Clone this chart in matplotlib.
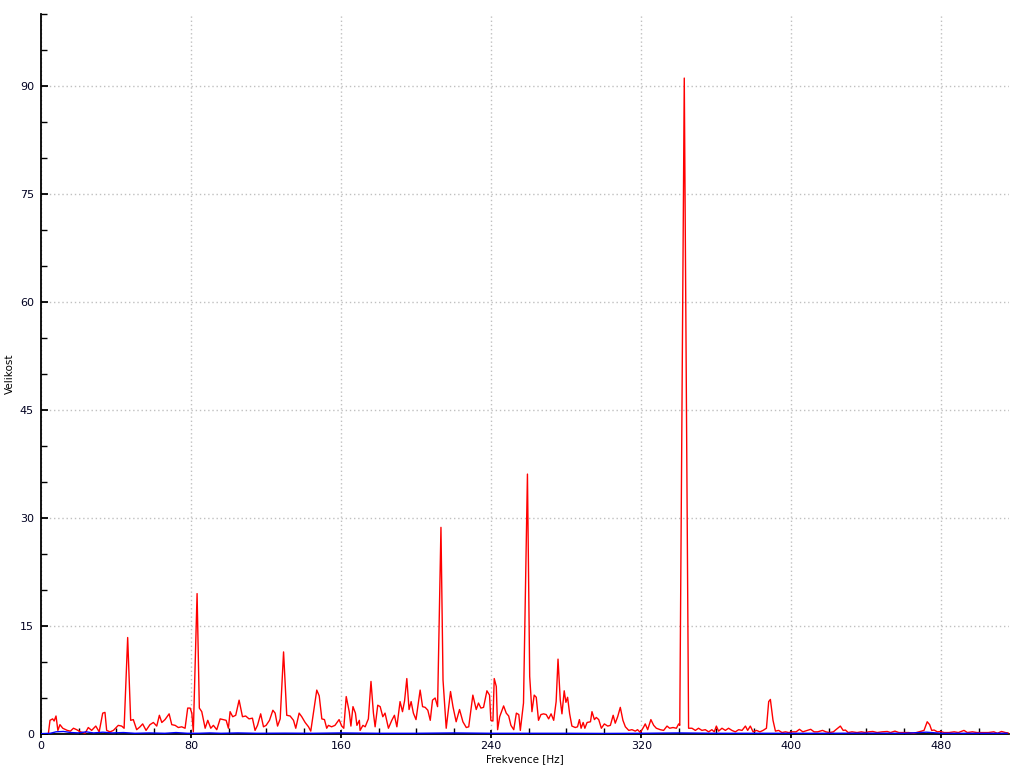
import matplotlib
matplotlib.use("Agg")
import matplotlib.pyplot as plt
from matplotlib.ticker import MultipleLocator

# Red spectrum (frequency [Hz], magnitude)
red_freq = [0.0, 3.9, 4.8, 6.2, 7.0, 8.0, 9.0, 10.1, 11.6, 14.0, 15.7, 17.3, 19.0, 21.0, 23.5, 25.2, 27.0, 29.2,
            31.0, 32.9, 34.1, 35.0, 36.8, 38.6, 41.2, 43.0, 44.3, 46.2, 47.8, 49.2, 51.0, 52.8, 54.2, 56.0,
            58.1, 59.9, 61.7, 63.1, 64.4, 66.1, 68.3, 69.7, 71.5, 73.2, 75.0, 76.8, 78.2, 79.5, 80.4, 81.2,
            83.2, 84.4, 85.7, 87.5, 88.9, 90.5, 91.9, 93.7, 95.5, 97.2, 98.7, 99.9, 100.8, 102.2, 103.8,
            105.6, 107.4, 109.1, 110.9, 112.7, 114.1, 115.4, 117.1, 118.6, 120.0, 121.8, 123.6, 124.8,
            126.1, 127.5, 129.3, 131.0, 132.8, 134.6, 135.8, 137.6, 139.0, 140.8, 142.6, 143.8, 145.2,
            147.0, 148.3, 149.7, 151.1, 152.3, 153.2, 154.9, 156.7, 158.9, 160.3, 161.4, 162.7, 164.3,
            165.2, 166.3, 167.6, 168.4, 169.7, 170.1, 171.6, 172.8, 174.5, 175.9, 177.2, 178.1, 179.5,
            180.8, 182.2, 183.4, 185.2, 187.0, 188.4, 189.7, 191.4, 192.7, 193.8, 195.0, 196.2, 197.3,
            198.5, 199.9, 202.1, 203.4, 204.8, 206.2, 207.5, 208.7, 210.1, 211.4, 213.2, 214.3, 216.0,
            218.3, 219.6, 221.3, 223.1, 224.9, 226.7, 228.0, 230.2, 232.0, 233.2, 234.5, 235.9, 237.7,
            239.1, 239.8, 240.9, 241.6, 242.7, 243.4, 244.5, 246.6, 248.0, 249.3, 250.5, 252.0, 253.4,
            254.7, 255.5, 257.2, 259.3, 260.5, 261.7, 262.9, 264.0, 265.2, 266.5, 267.9, 269.3, 270.6,
            271.9, 273.3, 274.6, 275.6, 276.8, 277.7, 278.9, 279.8, 280.7, 281.8, 283.0, 284.8, 286.0,
            287.0, 287.9, 289.0, 289.9, 291.1, 292.9, 293.7, 295.0, 296.0, 297.3, 298.7, 300.3, 302.1,
            303.5, 305.0, 306.1, 307.4, 308.8, 310.2, 311.5, 313.3, 315.0, 316.8, 318.0, 319.5, 321.3,
            322.1, 323.4, 325.1, 326.6, 328.0, 330.1, 331.9, 333.7, 335.1, 336.9, 338.7, 339.9, 340.5,
            342.9, 345.2, 347.0, 348.8, 350.5, 352.3, 354.1, 355.9, 357.6, 358.9, 360.0, 361.2, 363.0,
            364.8, 366.5, 368.3, 370.1, 371.9, 373.7, 375.5, 376.7, 378.1, 379.6, 381.4, 383.2, 384.9,
            386.7, 387.9, 388.8, 390.2, 391.5, 393.2, 395.0, 396.8, 398.6, 400.4, 402.5, 404.3, 406.1,
            408.5, 410.3, 412.1, 414.0, 416.6, 418.4, 420.2, 422.4, 423.5, 426.1, 427.6, 428.8, 430.3,
            432.3, 435.0, 437.3, 439.5, 441.2, 443.4, 445.7, 448.4, 451.1, 452.8, 455.2, 457.3, 460.0,
            462.6, 465.3, 468.0, 470.7, 472.4, 473.7, 474.8, 476.1, 477.8, 479.6, 481.4, 484.0, 486.8,
            489.0, 492.0, 493.8, 496.5, 499.0, 501.6, 505.0, 507.9, 509.8, 512.0, 514.1, 515.5]
red_mag = [0.0, 0.0, 1.9, 2.1, 1.8, 2.5, 0.5, 1.3, 0.8, 0.5, 0.4, 0.8, 0.6, 0.3, 0.1, 0.9, 0.5, 1.1,
           0.3, 2.9, 3.0, 0.5, 0.3, 0.5, 1.2, 1.1, 0.8, 13.4, 1.9, 2.0, 0.6, 1.0, 1.4, 0.5,
           1.3, 1.6, 1.1, 2.6, 1.6, 2.0, 2.8, 1.3, 1.2, 0.9, 1.0, 0.8, 3.6, 3.6, 2.9, 0.3,
           19.5, 3.6, 3.1, 0.8, 1.9, 0.8, 1.2, 0.6, 2.1, 2.0, 1.9, 0.8, 3.1, 2.4, 2.6,
           4.7, 2.4, 2.5, 2.1, 2.2, 0.5, 1.2, 2.8, 1.0, 1.2, 1.9, 3.3, 2.9,
           1.1, 2.1, 11.4, 2.6, 2.5, 1.9, 0.8, 2.9, 2.4, 1.6, 1.0, 0.4, 2.9,
           6.1, 5.3, 2.1, 2.0, 0.8, 1.2, 1.0, 1.2, 2.0, 1.1, 0.8, 5.2, 3.1,
           1.1, 3.8, 2.9, 1.2, 1.9, 0.5, 1.2, 1.0, 2.1, 7.3, 2.9, 1.0, 4.0,
           3.8, 2.4, 2.9, 0.8, 1.9, 2.6, 1.0, 4.5, 3.1, 4.6, 7.7, 3.4, 4.5,
           2.9, 2.0, 6.1, 3.8, 3.7, 3.3, 1.9, 4.7, 5.0, 3.8, 28.7, 7.5, 0.8,
           5.9, 3.8, 1.7, 3.4, 1.7, 0.9, 1.0, 5.4, 3.4, 4.3, 3.6, 3.7, 6.0,
           5.4, 1.9, 1.8, 7.7, 6.6, 0.6, 2.4, 3.9, 2.9, 2.5, 1.2, 0.6, 2.9,
           2.7, 0.5, 4.3, 36.1, 8.0, 3.1, 5.4, 5.1, 1.9, 2.7, 2.8, 2.7, 2.1,
           2.8, 1.9, 4.5, 10.4, 4.7, 2.8, 6.0, 4.4, 5.1, 2.8, 1.1, 0.9, 1.0,
           2.0, 0.8, 1.6, 0.8, 1.6, 1.7, 3.1, 2.0, 2.3, 2.0, 0.8, 1.4, 1.1,
           1.2, 2.6, 1.5, 2.4, 3.7, 1.9, 1.0, 0.5, 0.6, 0.4, 0.6, 0.2, 1.0,
           1.4, 0.6, 2.0, 1.2, 0.8, 0.6, 0.5, 1.1, 0.8, 0.9, 0.8, 1.4, 1.2,
           91.1, 0.8, 0.8, 0.5, 0.8, 0.5, 0.6, 0.3, 0.6, 0.3, 1.1, 0.4, 0.8,
           0.5, 0.8, 0.5, 0.3, 0.6, 0.5, 1.1, 0.5, 1.1, 0.3, 0.5, 0.3, 0.5,
           0.8, 4.5, 4.8, 1.9, 0.4, 0.5, 0.2, 0.3, 0.2, 0.3, 0.3, 0.65, 0.3,
           0.5, 0.65, 0.3, 0.3, 0.5, 0.3, 0.2, 0.3, 0.55, 1.1, 0.5, 0.55, 0.2,
           0.3, 0.2, 0.3, 0.2, 0.3, 0.35, 0.2, 0.3, 0.35, 0.2, 0.4, 0.2, 0.2,
           0.2, 0.1, 0.3, 0.5, 1.7, 1.3, 0.5, 0.55, 0.3, 0.35, 0.2, 0.2, 0.3,
           0.2, 0.5, 0.2, 0.3, 0.2, 0.2, 0.2, 0.3, 0.1, 0.35, 0.2, 0.15]

# Blue series (near zero)
blue_freq = [0, 5, 8, 12, 16, 20, 24, 28, 33, 38, 44, 50, 58, 66, 72, 78, 84, 90, 96, 105, 115, 130,
             145, 160, 180, 200, 220, 240, 260, 280, 300, 320, 340, 360, 380, 400, 420, 440, 460, 472,
             480, 500, 515]
blue_mag = [0.05, 0.1, 0.3, 0.35, 0.2, 0.15, 0.3, 0.15, 0.25, 0.15, 0.2, 0.1, 0.15, 0.1, 0.2, 0.1, 0.1,
            0.15, 0.1, 0.15, 0.1, 0.12, 0.1, 0.15, 0.1, 0.1, 0.15, 0.1, 0.1, 0.1, 0.08, 0.1, 0.15, 0.1,
            0.1, 0.1, 0.1, 0.12, 0.1, 0.25, 0.1, 0.1, 0.1]

fig = plt.figure(figsize=(10.24, 7.68), dpi=100)
ax = fig.add_axes([41 / 1024, 34 / 768, (1009 - 41) / 1024, (734 - 14) / 768])

ax.plot(red_freq, red_mag, color="#ff0000", lw=1.0, zorder=3)
ax.plot(blue_freq, blue_mag, color="#0000ff", lw=1.0, zorder=4)

ax.set_xlim(0, 516)
ax.set_ylim(0, 100)
ax.xaxis.set_major_locator(MultipleLocator(80))
ax.xaxis.set_minor_locator(MultipleLocator(20))
ax.yaxis.set_major_locator(MultipleLocator(15))
ax.yaxis.set_minor_locator(MultipleLocator(5))

for s in ["top", "right"]:
    ax.spines[s].set_visible(False)
for s in ["left", "bottom"]:
    ax.spines[s].set_linewidth(1.3)
    ax.spines[s].set_color("black")

ax.tick_params(axis="x", which="major", direction="inout", length=6, width=1.3,
               labelsize=8, labelcolor="#000020", pad=2)
ax.tick_params(axis="y", which="major", direction="in", length=5, width=1.3,
               labelsize=8, labelcolor="#000020", pad=5)
ax.tick_params(axis="both", which="minor", direction="in", length=4, width=1.0)

ax.grid(True, which="major", color="#c0c0c0", linestyle=(0, (1, 2)), linewidth=1.0)
ax.set_axisbelow(True)

ax.set_xlabel("Frekvence [Hz]", fontsize=7.5, labelpad=2)
ax.set_ylabel("Velikost", fontsize=7.5)
ax.yaxis.set_label_coords(-0.027, 0.5)

fig.savefig("out.png", dpi=100)
